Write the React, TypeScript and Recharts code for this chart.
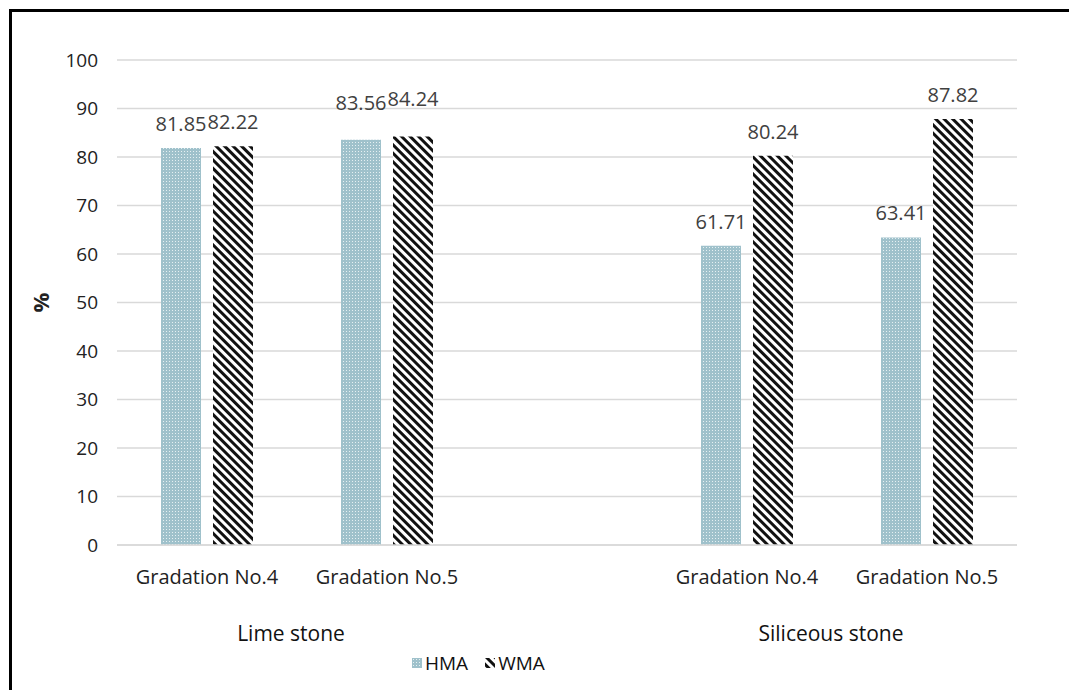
import { Bar, BarChart, CartesianGrid, LabelList, XAxis, YAxis } from "recharts";

const categories = ["Gradation No.4", "Gradation No.5", "", "Gradation No.4", "Gradation No.5"];
const groupOfCategory = ["Lime stone", "Lime stone", "", "Siliceous stone", "Siliceous stone"];
const hmaValues = [81.85, 83.56, null, 61.71, 63.41];
const wmaValues = [82.22, 84.24, null, 80.24, 87.82];
const yTicks = [0, 10, 20, 30, 40, 50, 60, 70, 80, 90, 100];

const data = categories.map((name, i) => ({
	name,
	group: groupOfCategory[i],
	hma: hmaValues[i],
	wma: wmaValues[i],
}));

const FONT = "'Open Sans', sans-serif";

// the second pair of lime stone labels sits a bit higher in the original
const renderLabel = (props: any) => {
	const { x, y, width, value, index } = props;
	if (value == null) return null;
	const lift = index === 1 ? 30 : 17;
	return (
		<text
			x={x + width / 2}
			y={y - lift}
			textAnchor="middle"
			fontSize={20}
			fontFamily={FONT}
			fill="#404040"
		>
			{value.toFixed(2)}
		</text>
	);
};

const renderGroupTick = (props: any) => {
	const { x, y, payload, index, width } = props;
	const prev = index > 0 ? groupOfCategory[index - 1] : null;
	if (!payload.value || prev === payload.value) return null;
	const step = (width || 900) / categories.length;
	return (
		<text
			x={x + step / 2 - 6}
			y={y + 38}
			textAnchor="middle"
			fontSize={21}
			fontFamily={FONT}
			fill="#111"
		>
			{payload.value}
		</text>
	);
};

export default function App() {
	return (
		<div
			style={{
				position: "absolute",
				left: 0,
				top: 0,
				width: 1069,
				height: 690,
				background: "#fff",
				overflow: "hidden",
			}}
		>
			<div
				style={{
					position: "absolute",
					left: 9,
					top: 9,
					width: 1100,
					height: 720,
					border: "3px solid #000",
				}}
			/>
			<div style={{ position: "absolute", left: 0, top: 0 }}>
				<BarChart
					width={1069}
					height={690}
					data={data}
					margin={{ top: 60, right: 52, bottom: 45, left: 57 }}
					barSize={40}
					barGap={12}
				>
					<defs>
						<pattern id="hmaDots" patternUnits="userSpaceOnUse" width={3} height={3}>
							<rect width={3} height={3} fill="#9fc1cb" />
							<rect x={1} y={1} width={1} height={1} fill="#e6f0f2" />
						</pattern>
						<pattern
							id="wmaStripes"
							patternUnits="userSpaceOnUse"
							width={6}
							height={6}
							patternTransform="rotate(-45)"
						>
							<rect width={6} height={6} fill="#fff" />
							<rect width={3} height={6} fill="#111" />
						</pattern>
					</defs>
					<CartesianGrid vertical={false} stroke="#d9d9d9" strokeWidth={1.5} />
					<XAxis
						dataKey="name"
						interval={0}
						height={50}
						axisLine={{ stroke: "#d9d9d9", strokeWidth: 1.5 }}
						tickLine={false}
						tickMargin={19}
						tick={{ fontSize: 20, fontFamily: FONT, fill: "#222" }}
					/>
					<XAxis
						xAxisId="grp"
						dataKey="group"
						interval={0}
						height={50}
						axisLine={false}
						tickLine={false}
						tick={renderGroupTick}
					/>
					<YAxis
						domain={[0, 100]}
						ticks={yTicks}
						interval={0}
						width={60}
						axisLine={false}
						tickLine={false}
						tickSize={0}
						tickMargin={19}
						tick={{ fontSize: 19, fontFamily: FONT, fill: "#222" }}
						label={{
							value: "%",
							angle: -90,
							position: "insideLeft",
							offset: 0,
							style: { fontSize: 22, fontWeight: 700, fontFamily: FONT, fill: "#222" },
							dx: -16,
							dy: 10,
						}}
					/>
					<Bar dataKey="hma" fill="url(#hmaDots)" isAnimationActive={false}>
						<LabelList dataKey="hma" content={renderLabel} />
					</Bar>
					<Bar dataKey="wma" fill="url(#wmaStripes)" isAnimationActive={false}>
						<LabelList dataKey="wma" content={renderLabel} />
					</Bar>
				</BarChart>
			</div>
			<div
				style={{
					position: "absolute",
					top: 650,
					left: 412,
					display: "flex",
					alignItems: "center",
					fontFamily: FONT,
					fontSize: 19,
					color: "#111",
					gap: 3,
				}}
			>
				<svg width={10} height={10}>
					<rect width={10} height={10} fill="url(#hmaDots)" />
				</svg>
				<span>HMA</span>
				<svg width={10} height={10} style={{ marginLeft: 14 }}>
					<rect width={10} height={10} fill="url(#wmaStripes)" />
				</svg>
				<span>WMA</span>
			</div>
		</div>
	);
}
